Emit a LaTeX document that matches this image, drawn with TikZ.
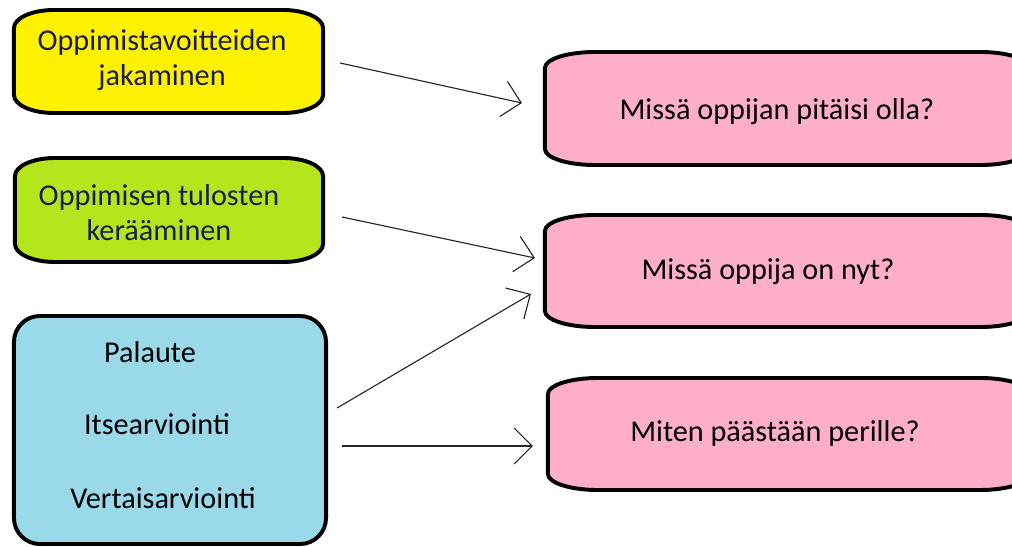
\documentclass[tikz,border=0pt]{standalone}
\usepackage{fontspec}
\setmainfont{Carlito}
\usetikzlibrary{arrows.meta,backgrounds}

\definecolor{goalyellow}{HTML}{FFF200}
\definecolor{evidgreen}{HTML}{B5E61D}
\definecolor{fbblue}{HTML}{99D9EA}
\definecolor{qpink}{HTML}{FFAEC9}
\definecolor{navytext}{HTML}{1C1C4E}

% Outline of a box with elliptical corners, drawn round a named node.
% #1 node, #2 x radius, #3 y radius, #4 fill colour
\newcommand\softoutline[4]{%
  \path[outline, fill=#4]
    ([xshift=#2]#1.north west) -- ([xshift=-#2]#1.north east)
    arc[start angle=90, end angle=0, x radius=#2, y radius=#3]
    -- ([yshift=#3]#1.south east)
    arc[start angle=0, end angle=-90, x radius=#2, y radius=#3]
    -- ([xshift=#2]#1.south west)
    arc[start angle=270, end angle=180, x radius=#2, y radius=#3]
    -- ([yshift=-#3]#1.north west)
    arc[start angle=180, end angle=90, x radius=#2, y radius=#3]
    -- cycle;}

\begin{document}
\begin{tikzpicture}[x=0.025cm, y=0.025cm,
  box/.style={rectangle, draw=none, inner sep=0pt, outer sep=0pt},
  boxtext/.style={font=\fontsize{21.5}{25}\selectfont, align=center, inner sep=0pt},
  outline/.style={draw=black, line width=2.8pt, line join=round},
  arr/.style={draw=black!85, line width=0.8pt,
    -{Straight Barb[length=0.45cm, width=0.9cm, line width=0.8pt]}}]

\useasboundingbox (0,0) rectangle (1012,546);

% left column
\node[box, minimum width=7.725cm, minimum height=2.575cm] (goals) at (168.5,484.5) {};
\node[boxtext, text=navytext] (goalstext) at (162,485.5) {Oppimistavoitteiden\\jakaminen};

\node[box, minimum width=7.7cm, minimum height=2.6cm] (evidence) at (169,336) {};
\node[boxtext, text=navytext] (evidencetext) at (159,333.5) {Oppimisen tulosten\\kerääminen};

\node[box, minimum width=7.8cm, minimum height=5.7cm] (feedback) at (170,116) {};
\node[boxtext] (fb1) at (150,194) {Palaute};
\node[boxtext] (fb2) at (157,122) {Itsearviointi};
\node[boxtext] (fb3) at (163,48) {Vertaisarviointi};

% right column (boxes run on past the right edge)
\node[box, minimum width=12.125cm, minimum height=2.825cm] (q1) at (787.5,437.5) {};
\node[boxtext] (q1text) at (777,434) {Missä oppijan pitäisi olla?};

\node[box, minimum width=12.125cm, minimum height=2.8cm] (q2) at (787.5,275) {};
\node[boxtext] (q2text) at (768,274) {Missä oppija on nyt?};

\node[box, minimum width=12.05cm, minimum height=2.8cm] (q3) at (789,112) {};
\node[boxtext] (q3text) at (775,113) {Miten päästään perille?};

\begin{scope}[on background layer]
  \softoutline{goals}{1cm}{0.45cm}{goalyellow}
  \softoutline{evidence}{1cm}{0.45cm}{evidgreen}
  \softoutline{feedback}{0.65cm}{0.65cm}{fbblue}
  \softoutline{q1}{1.25cm}{0.4cm}{qpink}
  \softoutline{q2}{1.25cm}{0.4cm}{qpink}
  \softoutline{q3}{1.25cm}{0.4cm}{qpink}
\end{scope}

% connectors
\draw[arr] ([shift={(17,-1.5)}]goals.east) -- ([shift={(-23,5.5)}]q1.west);
\draw[arr] ([shift={(19,-7)}]evidence.east) -- ([shift={(-10,13)}]q2.west);
\draw[arr] ([shift={(11,22)}]feedback.east) -- ([shift={(-14,-23)}]q2.west);
\draw[arr] ([shift={(16,-16)}]feedback.east) -- ([shift={(-15,-12)}]q3.west);
\end{tikzpicture}
\end{document}
